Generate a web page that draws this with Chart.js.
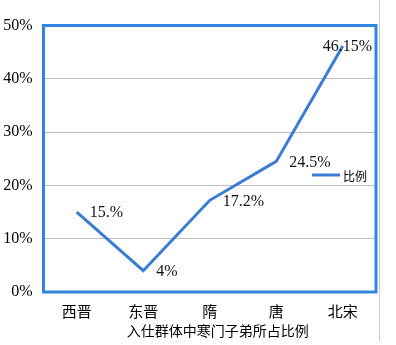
<!DOCTYPE html>
<html lang="zh">
<head>
<meta charset="UTF-8">
<title>入仕群体中寒门子弟所占比例</title>
<script src="https://cdn.jsdelivr.net/npm/chart.js"></script>
<style>
    body { margin: 0; background: #fff; }
    #wrap { width: 396px; height: 345px; }
</style>
</head>
<body>
<div id="wrap"><canvas id="chart" width="396" height="345"></canvas></div>
<script>
    const categories = ['西晋', '东晋', '隋', '唐', '北宋'];
    const ratioValues = [15, 4, 17.2, 24.5, 46.15];
    const valueLabels = ['15.%', '4%', '17.2%', '24.5%', '46.15%'];
    const seriesName = '比例';
    const axisTitle = '入仕群体中寒门子弟所占比例';

    const lineColor = '#3a7bd5';
    const frameColor = '#2f85e0';
    const cjkFont = '"Noto Sans CJK SC", sans-serif';
    const numFont = '"Liberation Serif", serif';

    // frame, value labels, legend, axis title
    const extras = {
        id: 'extras',
        afterDatasetsDraw(chart) {
            const ctx = chart.ctx;
            const a = chart.chartArea;
            ctx.save();
            ctx.strokeStyle = frameColor;
            ctx.lineWidth = 3;
            ctx.strokeRect(a.left, a.top, a.right - a.left, a.bottom - a.top);

            // value labels next to points
            ctx.font = '16px ' + numFont;
            ctx.fillStyle = '#111';
            ctx.textBaseline = 'middle';
            ctx.textAlign = 'left';
            chart.getDatasetMeta(0).data.forEach((pt, i) => {
                const txt = valueLabels[i];
                const w = ctx.measureText(txt).width;
                let x = pt.x + 13;
                if (x + w > a.right - 3) x = a.right - 4 - w;
                ctx.fillText(txt, x, pt.y + 1);
            });

            // legend
            const ly = 175;
            ctx.strokeStyle = lineColor;
            ctx.lineWidth = 3;
            ctx.beginPath();
            ctx.moveTo(312, ly);
            ctx.lineTo(340, ly);
            ctx.stroke();
            ctx.font = '12px ' + cjkFont;
            ctx.fillStyle = '#000';
            ctx.fillText(seriesName, 343, ly + 1);

            // axis title
            ctx.font = '14px ' + cjkFont;
            ctx.textAlign = 'center';
            ctx.fillText(axisTitle, (a.left + a.right) / 2 + 8, 331);

            // outer grey edge
            ctx.strokeStyle = '#c8c8c8';
            ctx.lineWidth = 1;
            ctx.beginPath();
            ctx.moveTo(379.5, 0);
            ctx.lineTo(379.5, 341);
            ctx.stroke();
            ctx.restore();
        }
    };

    new Chart(document.getElementById('chart'), {
        type: 'line',
        data: {
            labels: categories,
            datasets: [{
                label: seriesName,
                data: ratioValues,
                borderColor: lineColor,
                borderWidth: 3,
                pointRadius: 0,
                tension: 0,
                fill: false
            }]
        },
        options: {
            responsive: false,
            animation: false,
            layout: { padding: { left: 0, right: 20, top: 25.5, bottom: 0 } },
            plugins: { legend: { display: false }, tooltip: { enabled: false } },
            scales: {
                x: {
                    offset: true,
                    grid: { display: false, drawTicks: false },
                    border: { display: false },
                    ticks: { color: '#000', padding: 10, font: { family: cjkFont, size: 15 } },
                    afterFit: s => { s.height = 53; }
                },
                y: {
                    min: 0,
                    max: 50,
                    grid: { color: '#c0c0c0', lineWidth: 1, drawTicks: false },
                    border: { display: false },
                    ticks: {
                        stepSize: 10,
                        color: '#000',
                        padding: 11,
                        font: { family: numFont, size: 16 },
                        callback: v => v + '%'
                    },
                    afterFit: s => { s.width = 43.5; }
                }
            }
        },
        plugins: [extras]
    });
</script>
</body>
</html>
